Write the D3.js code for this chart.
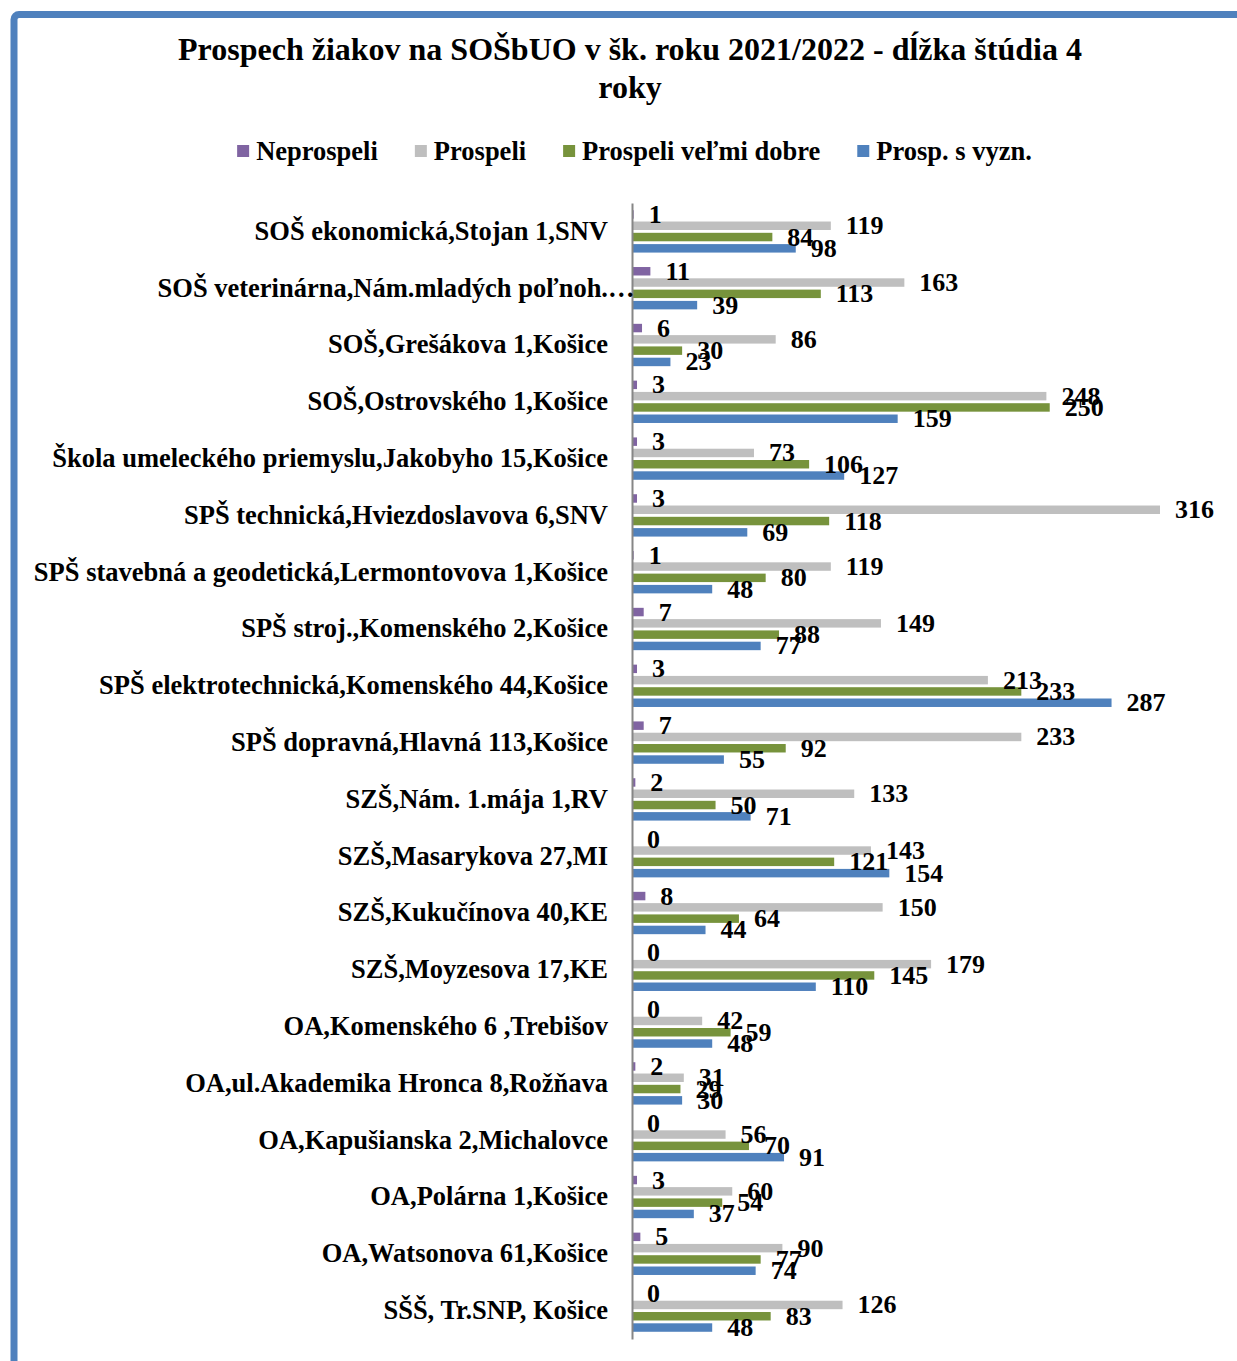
<!DOCTYPE html>
<html>
<head>
<meta charset="utf-8">
<script src="https://cdn.jsdelivr.net/npm/d3@7/dist/d3.min.js"></script>
<style>
  html, body { margin: 0; padding: 0; background: #fff; }
  svg { display: block; }
  text { font-family: "Liberation Serif", "Times New Roman", serif; font-weight: bold; fill: #000; }
</style>
</head>
<body>
<svg id="chart" width="1237" height="1361"></svg>
<script>
const categories = [
  "SOŠ ekonomická,Stojan 1,SNV",
  "SOŠ veterinárna,Nám.mladých poľnoh.…",
  "SOŠ,Grešákova 1,Košice",
  "SOŠ,Ostrovského 1,Košice",
  "Škola umeleckého priemyslu,Jakobyho 15,Košice",
  "SPŠ technická,Hviezdoslavova 6,SNV",
  "SPŠ stavebná a geodetická,Lermontovova 1,Košice",
  "SPŠ stroj.,Komenského 2,Košice",
  "SPŠ elektrotechnická,Komenského 44,Košice",
  "SPŠ dopravná,Hlavná 113,Košice",
  "SZŠ,Nám. 1.mája 1,RV",
  "SZŠ,Masarykova 27,MI",
  "SZŠ,Kukučínova 40,KE",
  "SZŠ,Moyzesova 17,KE",
  "OA,Komenského 6 ,Trebišov",
  "OA,ul.Akademika Hronca 8,Rožňava",
  "OA,Kapušianska 2,Michalovce",
  "OA,Polárna 1,Košice",
  "OA,Watsonova 61,Košice",
  "SŠŠ, Tr.SNP, Košice"
];
const neprospeli      = [1, 11, 6, 3, 3, 3, 1, 7, 3, 7, 2, 0, 8, 0, 0, 2, 0, 3, 5, 0];
const prospeli        = [119, 163, 86, 248, 73, 316, 119, 149, 213, 233, 133, 143, 150, 179, 42, 31, 56, 60, 90, 126];
const prospeliVelmi   = [84, 113, 30, 250, 106, 118, 80, 88, 233, 92, 50, 121, 64, 145, 59, 29, 70, 54, 77, 83];
const prospSVyzn      = [98, 39, 23, 159, 127, 69, 48, 77, 287, 55, 71, 154, 44, 110, 48, 30, 91, 37, 74, 48];
const seriesNames     = ["Neprospeli", "Prospeli", "Prospeli veľmi dobre", "Prosp. s vyzn."];
const seriesColors    = ["#8064A2", "#BFBFBF", "#77933C", "#4F81BD"];
const titleLines      = ["Prospech žiakov na SOŠbUO v šk. roku 2021/2022 - dĺžka štúdia 4", "roky"];

const seriesValues = [neprospeli, prospeli, prospeliVelmi, prospSVyzn];
const svg = d3.select("#chart");

// frame
svg.append("rect")
  .attr("x", 14).attr("y", 14.5)
  .attr("width", 1300).attr("height", 1400)
  .attr("rx", 5)
  .attr("fill", "none")
  .attr("stroke", "#4F81BD")
  .attr("stroke-width", 7);

// title
svg.append("text")
  .attr("x", 630).attr("y", 49)
  .attr("text-anchor", "middle")
  .attr("dominant-baseline", "central")
  .style("font-size", "32px")
  .selectAll("tspan").data(titleLines).join("tspan")
  .attr("x", 630)
  .attr("dy", (d, i) => i === 0 ? 0 : 38)
  .text(d => d);

// scales
const x = d3.scaleLinear().domain([0, 320]).range([632, 632 + 320 * 1.6709]);
const y = d3.scaleBand().domain(categories).range([203, 1339]).paddingInner(0).paddingOuter(0);
const ySub = d3.scaleBand().domain(d3.range(4)).range([0, y.bandwidth()]).paddingInner(0.25).paddingOuter(0.64);

// bars
const groups = svg.append("g").selectAll("g").data(categories).join("g")
  .attr("transform", d => `translate(0,${y(d)})`);

groups.each(function(cat, ci) {
  const g = d3.select(this);
  const rows = seriesValues.map((vals, si) => ({ si, v: vals[ci] }));
  g.selectAll("rect").data(rows).join("rect")
    .attr("x", x(0))
    .attr("y", d => ySub(d.si))
    .attr("width", d => x(d.v) - x(0))
    .attr("height", ySub.bandwidth())
    .attr("fill", d => seriesColors[d.si]);
  g.selectAll("text").data(rows).join("text")
    .attr("x", d => x(d.v) + 15)
    .attr("y", d => ySub(d.si) + ySub.bandwidth() / 2)
    .attr("dominant-baseline", "central")
    .style("font-size", "26px")
    .text(d => d.v);
});

// axis
const axis = svg.append("g")
  .attr("transform", `translate(${x(0)},0)`)
  .call(d3.axisLeft(y).tickSize(0).tickPadding(24));
axis.select(".domain").attr("stroke", "#868686").attr("stroke-width", 2);
axis.selectAll(".tick text")
  .attr("fill", "#000")
  .style("font-family", "'Liberation Serif', 'Times New Roman', serif")
  .style("font-weight", "bold")
  .style("font-size", "26.5px");
// truncated labels: the ellipsis overhangs into the padding, as in the original
axis.selectAll(".tick text").each(function(d) {
  if (d.endsWith("…")) {
    const t = d3.select(this);
    const full = this.getComputedTextLength();
    t.text(d.slice(0, -1));
    const part = this.getComputedTextLength();
    t.text(d);
    t.attr("dx", full - part);
  }
});

// legend
const legend = svg.append("g").attr("transform", "translate(0,151)");
const items = legend.selectAll("g").data(seriesNames).join("g");
items.append("rect")
  .attr("x", 0).attr("y", -6).attr("width", 12).attr("height", 12)
  .attr("fill", (d, i) => seriesColors[i]);
items.append("text")
  .attr("x", 19).attr("y", 0)
  .attr("dominant-baseline", "central")
  .style("font-size", "26.5px")
  .text(d => d);
let widths = [];
items.each(function() { widths.push(19 + d3.select(this).select("text").node().getComputedTextLength()); });
const gap = 37;
const total = d3.sum(widths) + gap * (widths.length - 1);
let cx = 634.5 - total / 2;
items.each(function(d, i) {
  d3.select(this).attr("transform", `translate(${cx},0)`);
  cx += widths[i] + gap;
});
</script>
</body>
</html>
